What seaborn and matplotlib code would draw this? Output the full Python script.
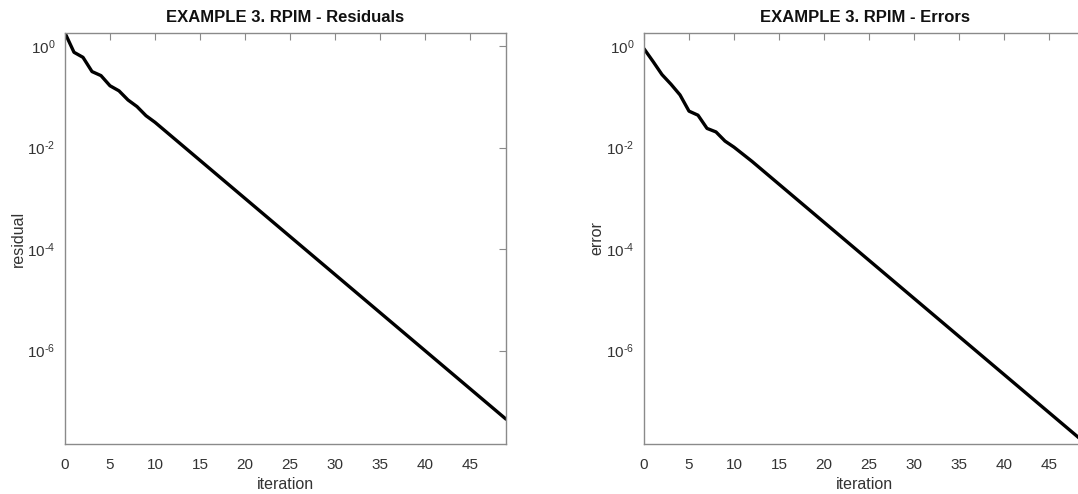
import numpy as np
import pandas as pd
import matplotlib
matplotlib.use("Agg")
import matplotlib.pyplot as plt
import seaborn as sns

# ---- data (log10 of the plotted values) ----
iterations = list(range(50))
residual_log10 = [0.26, -0.12, -0.22, -0.50, -0.58, -0.78, -0.88, -1.06, -1.19, -1.37,
                  -1.50, -1.65, -1.80, -1.95, -2.10, -2.25, -2.40, -2.55, -2.70, -2.85,
                  -3.00, -3.15, -3.30, -3.45, -3.60, -3.75, -3.90, -4.05, -4.20, -4.35,
                  -4.50, -4.65, -4.80, -4.95, -5.10, -5.25, -5.40, -5.55, -5.70, -5.85,
                  -6.00, -6.15, -6.30, -6.45, -6.60, -6.75, -6.90, -7.05, -7.20, -7.35]
error_log10 = [-0.05, -0.30, -0.56, -0.75, -0.96, -1.28, -1.36, -1.62, -1.69, -1.87,
               -1.99, -2.13, -2.27, -2.42, -2.57, -2.72, -2.87, -3.02, -3.17, -3.32,
               -3.47, -3.62, -3.77, -3.92, -4.07, -4.22, -4.37, -4.52, -4.67, -4.82,
               -4.97, -5.12, -5.27, -5.42, -5.57, -5.72, -5.87, -6.02, -6.17, -6.32,
               -6.47, -6.62, -6.77, -6.92, -7.07, -7.22, -7.37, -7.52, -7.67, -7.82]
titles = ["EXAMPLE 3. RPIM - Residuals", "EXAMPLE 3. RPIM - Errors"]
ylabels = ["residual", "error"]
xticks = [0, 5, 10, 15, 20, 25, 30, 35, 40, 45]
yticks = [1e0, 1e-2, 1e-4, 1e-6]
ytick_labels = ["10$^{0}$", "10$^{\\text{-}2}$", "10$^{\\text{-}4}$", "10$^{\\text{-}6}$"]

sns.set_style("white")
plt.rcParams["font.family"] = ["Liberation Sans", "DejaVu Sans"]
plt.rcParams["mathtext.fontset"] = "custom"
plt.rcParams["mathtext.rm"] = "Liberation Sans"
plt.rcParams["mathtext.it"] = "Liberation Sans"
plt.rcParams["mathtext.default"] = "regular"

fig = plt.figure(figsize=(10.78, 4.94), dpi=100)
W, H = 1078, 494
ax_l = fig.add_axes([65 / W, 1 - 444 / H, 441 / W, 411 / H])
ax_r = fig.add_axes([644 / W, 1 - 444 / H, 441 / W, 411 / H])

axis_col = "#8a8a8a"
text_col = "#333333"

for ax, vals, title, ylab in [(ax_l, residual_log10, titles[0], ylabels[0]),
                              (ax_r, error_log10, titles[1], ylabels[1])]:
    df = pd.DataFrame({"iteration": iterations, "value": np.power(10.0, vals)})
    sns.lineplot(data=df, x="iteration", y="value", ax=ax, color="black", linewidth=2.4)
    ax.set_yscale("log")
    ax.set_xlim(0, 49)
    ax.set_ylim(10 ** -7.84, 10 ** 0.26)
    ax.set_xticks(xticks)
    ax.set_xticklabels([str(t) for t in xticks])
    ax.set_yticks(yticks)
    ax.set_yticklabels(ytick_labels)
    ax.yaxis.set_minor_locator(matplotlib.ticker.NullLocator())
    ax.tick_params(axis="both", which="both", direction="in", length=5, width=0.8,
                   color=axis_col, labelcolor=text_col, labelsize=11,
                   top=True, right=True)
    ax.tick_params(axis="x", pad=10)
    ax.tick_params(axis="y", pad=7)
    for s in ax.spines.values():
        s.set_visible(True)
        s.set_color(axis_col)
        s.set_linewidth(1.0)
    ax.set_title(title, fontsize=12, fontweight="bold", color="#111111", pad=8)
    ax.set_xlabel("iteration", fontsize=11.5, color=text_col, labelpad=4)
    ax.set_ylabel(ylab, fontsize=11.5, color=text_col, labelpad=1)
    ax.grid(False)

fig.savefig("out.png", dpi=100)
